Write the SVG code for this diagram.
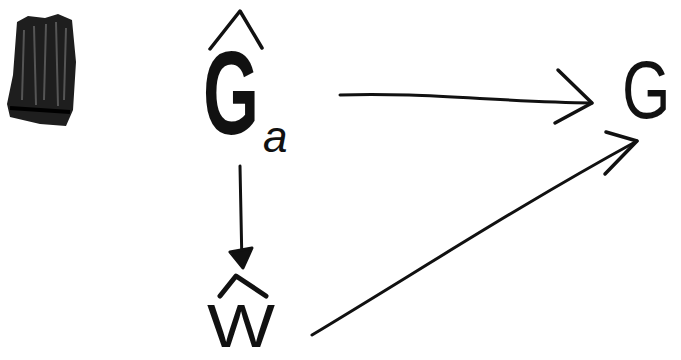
<svg xmlns="http://www.w3.org/2000/svg" width="681" height="360" viewBox="0 0 681 360">
<style>
.ln{fill:none;stroke:#111;stroke-linecap:round;stroke-linejoin:round}
.t{font-family:"Liberation Sans",Arial,sans-serif;fill:#111}
</style>
<rect width="681" height="360" fill="#fff"/>
<g id="scribble">
<path d="M17,22 L28,16 L45,18 L58,14 L72,20 L76,62 L73,110 L66,126 L40,124 L10,117 L7,104 L13,75 Z" fill="#1e1e1e"/>
<path d="M24,30 L22,100 M34,26 L36,105 M46,24 L44,100 M56,22 L58,106 M66,28 L64,100" stroke="#555" stroke-width="2" fill="none"/>
<path d="M10,108 L70,112" stroke="#000" stroke-width="4" fill="none"/>
</g>
<g id="node-Ga">
<polyline class="ln" points="210,49 240,11 262,48" stroke-width="3.5"/>
<text class="t" x="203" y="134" font-size="118" font-weight="bold" textLength="56" lengthAdjust="spacingAndGlyphs">G</text>
<text class="t" x="263" y="152" font-size="44" font-style="italic">a</text>
</g>
<g id="node-W">
<polyline class="ln" points="220,296 236,276 266,296" stroke-width="5"/>
<text class="t" x="207" y="347" font-size="62" textLength="68" lengthAdjust="spacingAndGlyphs">W</text>
</g>
<g id="node-G">
<text class="t" transform="translate(622,118) scale(0.76,1)" font-size="82">G</text>
</g>
<g id="connectors">
<path class="ln" d="M340,95 C420,92 500,102 592,103" stroke-width="3"/>
<polyline class="ln" points="558,70 592,103 555,123" stroke-width="3.5"/>
<path class="ln" d="M240,166 L242,266" stroke-width="3"/>
<path d="M230,252 L252,248 L243,268 Z" fill="#111" stroke="#111" stroke-width="3" stroke-linejoin="round"/>
<path class="ln" d="M312,335 C420,270 520,205 637,141" stroke-width="3"/>
<polyline class="ln" points="606,132 637,141 605,174" stroke-width="3.5"/>
</g>
</svg>
